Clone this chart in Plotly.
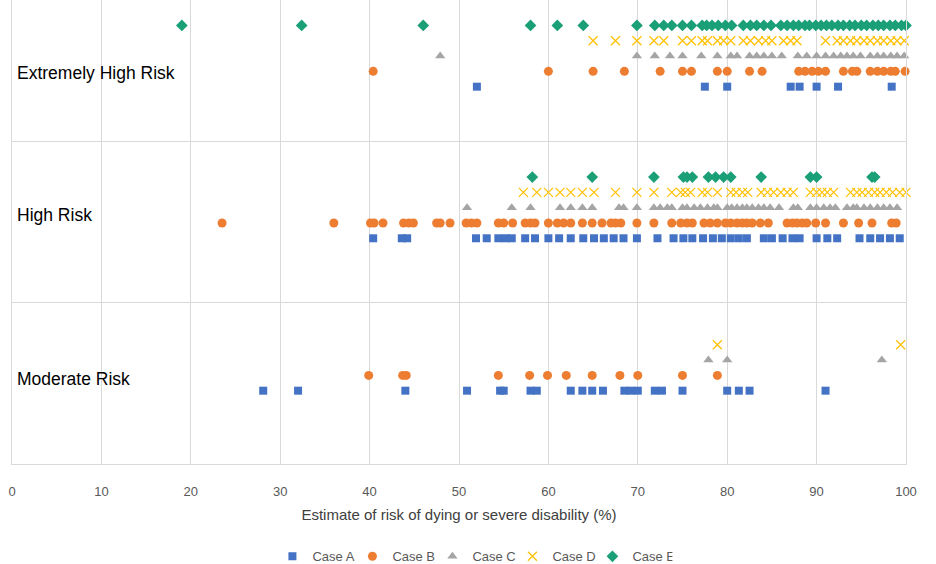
import plotly.graph_objects as go

bands = ["Moderate Risk", "High Risk", "Extremely High Risk"]
cases = ["Case A", "Case B", "Case C", "Case D", "Case E"]

A_moderate = [28.1, 32.0, 44.0, 50.9, 54.6, 55.0, 58.0, 58.7, 62.5, 63.8, 64.9, 66.1, 68.5, 69.2, 70.0, 71.9, 72.7, 75.0, 80.0, 81.3, 82.5, 91.0]
B_moderate = [39.9, 43.7, 44.1, 54.4, 57.9, 59.9, 62.0, 64.9, 68.0, 70.0, 75.0, 78.9]
C_moderate = [77.9, 80.0, 97.3]
D_moderate = [78.9, 99.4]
E_moderate = []

A_high = [40.4, 43.6, 44.2, 51.9, 53.1, 54.4, 55.2, 55.9, 57.4, 58.5, 60.0, 61.2, 62.5, 63.9, 65.1, 66.2, 67.3, 68.4, 69.9, 72.2, 74.0, 75.1, 76.1, 77.3, 78.4, 79.4, 80.4, 81.3, 82.2, 84.1, 85.0, 86.2, 87.3, 88.1, 90.0, 91.2, 92.3, 94.8, 96.0, 97.1, 98.2, 99.3]
B_high = [23.5, 36.0, 40.1, 40.5, 41.5, 43.8, 44.4, 44.9, 47.5, 47.9, 49.0, 50.8, 51.4, 52.0, 54.4, 55.0, 56.0, 57.4, 58.0, 58.5, 60.0, 61.0, 61.7, 62.5, 63.8, 64.9, 66.0, 67.0, 67.5, 68.1, 69.9, 71.8, 73.8, 74.8, 75.5, 76.1, 77.4, 78.1, 78.9, 79.8, 80.4, 81.1, 81.7, 82.2, 82.8, 83.7, 84.6, 86.7, 87.3, 87.8, 88.4, 88.9, 89.9, 91.0, 93.0, 94.7, 96.2, 98.4, 98.9]
C_high = [50.9, 55.9, 58.0, 61.3, 62.5, 63.8, 64.9, 67.9, 68.4, 69.9, 71.8, 72.5, 73.3, 73.8, 75.0, 75.5, 76.3, 77.0, 77.8, 78.5, 78.9, 80.0, 80.5, 81.1, 81.7, 82.2, 82.8, 83.5, 84.1, 84.8, 85.8, 87.4, 87.9, 89.3, 90.0, 90.8, 91.5, 92.1, 93.4, 94.1, 94.5, 95.3, 96.0, 96.8, 97.5, 98.2, 99.0]
D_high = [57.2, 58.7, 60.0, 61.3, 62.5, 63.8, 65.1, 67.5, 69.9, 71.8, 73.8, 74.8, 75.3, 75.9, 77.2, 77.8, 78.9, 80.4, 81.0, 81.7, 82.3, 83.8, 84.5, 85.2, 86.0, 86.7, 87.4, 89.3, 90.0, 90.6, 91.2, 91.9, 93.8, 94.5, 95.1, 95.8, 96.5, 97.1, 97.8, 98.5, 99.3, 100.0]
E_high = [58.2, 64.9, 71.8, 75.1, 75.5, 76.1, 77.9, 78.7, 79.6, 80.4, 83.8, 89.3, 90.0, 96.2, 96.5]

A_extreme = [52.0, 77.5, 80.0, 87.1, 88.1, 90.0, 92.4, 98.4]
B_extreme = [40.4, 60.0, 65.0, 68.5, 72.5, 75.0, 76.0, 78.9, 80.0, 82.5, 83.9, 88.0, 88.7, 89.5, 90.2, 91.0, 93.0, 94.0, 94.5, 96.0, 96.8, 97.5, 98.3, 98.8, 99.9]
C_extreme = [47.9, 69.9, 71.9, 73.6, 75.0, 77.1, 78.9, 80.4, 81.1, 82.5, 83.3, 84.1, 85.0, 86.1, 87.9, 88.9, 90.0, 91.0, 91.9, 92.7, 93.4, 94.1, 94.9, 96.0, 96.8, 97.5, 98.3, 99.0, 99.8]
D_extreme = [65.0, 67.5, 69.9, 71.8, 72.9, 75.0, 76.0, 77.2, 77.8, 78.9, 79.6, 80.4, 81.8, 82.6, 83.5, 84.3, 85.0, 86.3, 87.1, 87.8, 91.0, 92.3, 93.0, 93.8, 94.5, 95.3, 96.0, 96.8, 97.5, 98.3, 99.0, 99.8]
E_extreme = [19.0, 32.4, 46.0, 58.0, 61.0, 63.9, 69.9, 71.9, 72.9, 73.8, 75.0, 76.0, 77.2, 77.7, 78.3, 79.0, 79.8, 80.5, 81.8, 82.6, 83.3, 84.1, 84.9, 86.0, 86.7, 87.4, 88.0, 88.7, 89.2, 89.9, 90.5, 91.1, 91.7, 92.4, 93.0, 93.7, 94.3, 95.0, 95.6, 96.3, 96.9, 97.5, 98.2, 98.8, 99.5, 100.0]

x_ticks = [0, 10, 20, 30, 40, 50, 60, 70, 80, 90, 100]

series = [
    [A_moderate, A_high, A_extreme],
    [B_moderate, B_high, B_extreme],
    [C_moderate, C_high, C_extreme],
    [D_moderate, D_high, D_extreme],
    [E_moderate, E_high, E_extreme],
]

# styling
band_base = [0.455, 0.401, 0.342]
step = 0.095
symbols = ["square", "circle", "triangle-up", "x-thin-open", "diamond"]
colors = ["#4472C4", "#ED7D31", "#A5A5A5", "#FFC000", "#1A9F76"]
sizes = [8, 9, 9, 9, 9]

fig = go.Figure()
for ci, name in enumerate(cases):
    xs, ys = [], []
    for bi in range(len(bands)):
        vals = series[ci][bi]
        xs += vals
        ys += [bi + band_base[bi] + step * ci] * len(vals)
    marker = dict(symbol=symbols[ci], color=colors[ci], size=sizes[ci])
    if symbols[ci] == "x-thin-open":
        marker["line"] = dict(color=colors[ci], width=1.2)
    else:
        marker["line"] = dict(width=0)
    fig.add_trace(go.Scatter(x=xs, y=ys, mode="markers", name=name, marker=marker, cliponaxis=False))

label_y = [0.528, 1.546, 2.427]
for bi, b in enumerate(bands):
    fig.add_annotation(x=0, y=label_y[bi], xref="x", yref="y", text=b, showarrow=False,
                       xanchor="left", yanchor="middle", xshift=3,
                       font=dict(size=17.5, color="#000000", family="Liberation Sans"))

fig.update_layout(
    width=936, height=564,
    margin=dict(l=12, r=30, t=0, b=100, autoexpand=False),
    paper_bgcolor="white", plot_bgcolor="white",
    font=dict(family="Liberation Sans", color="#595959"),
    xaxis=dict(range=[0, 100], tickvals=x_ticks, ticktext=[str(t) for t in x_ticks],
               automargin=False,
               showgrid=True, gridcolor="#D9D9D9", gridwidth=1, zeroline=False,
               showline=True, linecolor="#D9D9D9", linewidth=1, ticks="",
               ticklabelstandoff=15,
               tickfont=dict(size=13, color="#595959"),
               title=dict(text="Estimate of risk of dying or severe disability (%)",
                          font=dict(size=15, color="#404040"), standoff=11)),
    yaxis=dict(range=[0, 2.88], tickvals=[1, 2], showticklabels=False, showgrid=True,
               automargin=False,
               gridcolor="#D9D9D9", gridwidth=1, zeroline=False,
               showline=True, mirror=True, linecolor="#D9D9D9", linewidth=1, ticks=""),
    legend=dict(orientation="h", x=0.515, xanchor="center", y=-0.199, yanchor="middle",
                font=dict(size=13, color="#595959"), itemwidth=30,
                entrywidth=35, entrywidthmode="pixels"),
    showlegend=True,
)

fig.write_html("out.html", config={"displayModeBar": False},
               post_script="document.body.style.margin='0';document.body.style.overflow='hidden';")
